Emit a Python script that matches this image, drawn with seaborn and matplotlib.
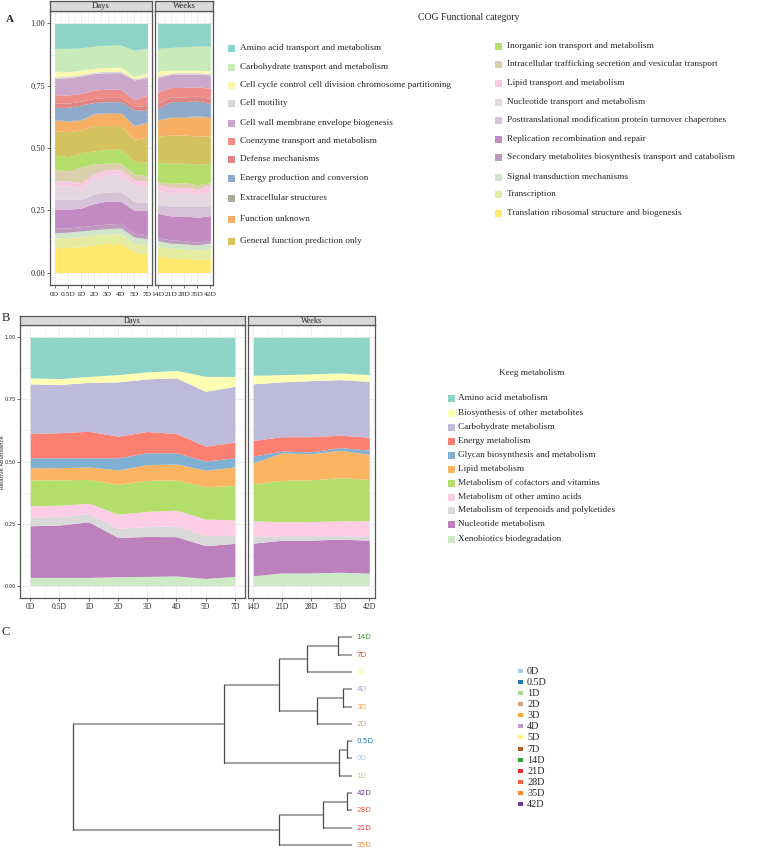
import matplotlib
matplotlib.use("Agg")
import matplotlib.pyplot as plt
from matplotlib.patches import Rectangle
import numpy as np
import seaborn as sns

sns.set_theme(style="white")
plt.rcParams["font.family"] = ["Liberation Serif", "DejaVu Serif"]

#### data
days = ["0D", "0.5D", "1D", "2D", "3D", "4D", "5D", "7D"]
weeks = ["14D", "21D", "28D", "35D", "42D"]

# COG relative abundance (0D..7D then 14D..42D)
cog_amino = [0.100, 0.100, 0.098, 0.091, 0.087, 0.087, 0.107, 0.100, 0.100, 0.096, 0.094, 0.090, 0.091]
cog_carbo = [0.091, 0.094, 0.089, 0.089, 0.089, 0.089, 0.107, 0.098, 0.091, 0.091, 0.093, 0.097, 0.099]
cog_cycle = [0.024, 0.018, 0.018, 0.015, 0.016, 0.016, 0.007, 0.013, 0.020, 0.012, 0.010, 0.010, 0.011]
cog_motility = [0.006, 0.006, 0.006, 0.006, 0.006, 0.006, 0.006, 0.006, 0.006, 0.006, 0.006, 0.006, 0.006]
cog_wall = [0.065, 0.069, 0.070, 0.066, 0.066, 0.066, 0.080, 0.070, 0.060, 0.052, 0.054, 0.051, 0.054]
cog_coenzyme = [0.034, 0.033, 0.031, 0.033, 0.033, 0.033, 0.027, 0.041, 0.043, 0.038, 0.038, 0.038, 0.040]
cog_defense = [0.017, 0.017, 0.016, 0.017, 0.017, 0.017, 0.014, 0.020, 0.021, 0.019, 0.019, 0.019, 0.020]
cog_energy = [0.048, 0.054, 0.057, 0.044, 0.044, 0.044, 0.061, 0.047, 0.046, 0.060, 0.060, 0.060, 0.053]
cog_extra = [0.003, 0.003, 0.003, 0.003, 0.003, 0.003, 0.003, 0.003, 0.003, 0.003, 0.003, 0.003, 0.003]
cog_unknown = [0.044, 0.040, 0.040, 0.046, 0.049, 0.049, 0.053, 0.059, 0.062, 0.071, 0.071, 0.078, 0.075]
cog_general = [0.096, 0.101, 0.093, 0.101, 0.095, 0.095, 0.090, 0.098, 0.105, 0.113, 0.113, 0.114, 0.109]
cog_inorganic = [0.058, 0.057, 0.054, 0.053, 0.056, 0.056, 0.049, 0.056, 0.078, 0.081, 0.078, 0.082, 0.078]
cog_intra = [0.046, 0.040, 0.064, 0.038, 0.025, 0.025, 0.024, 0.024, 0.011, 0.016, 0.019, 0.016, 0.009]
cog_lipid = [0.019, 0.020, 0.023, 0.017, 0.020, 0.018, 0.020, 0.020, 0.025, 0.021, 0.021, 0.018, 0.027]
cog_nucleotide = [0.054, 0.053, 0.044, 0.065, 0.070, 0.071, 0.067, 0.063, 0.055, 0.054, 0.054, 0.053, 0.056]
cog_posttrans = [0.040, 0.040, 0.036, 0.038, 0.037, 0.038, 0.036, 0.033, 0.036, 0.040, 0.040, 0.043, 0.040]
cog_replication = [0.077, 0.076, 0.074, 0.088, 0.092, 0.089, 0.091, 0.097, 0.098, 0.096, 0.099, 0.100, 0.101]
cog_secondary = [0.018, 0.017, 0.017, 0.018, 0.019, 0.019, 0.016, 0.016, 0.012, 0.013, 0.013, 0.011, 0.010]
cog_signal = [0.020, 0.022, 0.023, 0.021, 0.022, 0.025, 0.024, 0.022, 0.021, 0.020, 0.020, 0.020, 0.022]
cog_transcription = [0.040, 0.040, 0.041, 0.040, 0.036, 0.038, 0.036, 0.039, 0.039, 0.041, 0.038, 0.038, 0.040]
cog_translation = [0.100, 0.100, 0.103, 0.111, 0.118, 0.116, 0.082, 0.075, 0.068, 0.057, 0.057, 0.053, 0.056]

cog_labels = ["Amino acid transport and metabolism",
              "Carbohydrate transport and metabolism",
              "Cell cycle control cell division chromosome partitioning",
              "Cell motility",
              "Cell wall membrane envelope biogenesis",
              "Coenzyme transport and metabolism",
              "Defense mechanisms",
              "Energy production and conversion",
              "Extracellular structures",
              "Function unknown",
              "General function prediction only",
              "Inorganic ion transport and metabolism",
              "Intracellular trafficking secretion and vesicular transport",
              "Lipid transport and metabolism",
              "Nucleotide transport and metabolism",
              "Posttranslational modification protein turnover chaperones",
              "Replication recombination and repair",
              "Secondary metabolites biosynthesis transport and catabolism",
              "Signal transduction mechanisms",
              "Transcription",
              "Translation ribosomal structure and biogenesis"]
cog_colours = ["#8DD3C7", "#C9EBBA", "#FAF8B0", "#D6D6D6", "#CBA8CB", "#EE8C88",
               "#DE8585", "#8EA9C9", "#ABAB9E", "#F7AF63", "#D3C25E", "#B3DE69",
               "#DCCFAD", "#F8C9E1", "#E5D7E0", "#D7C3D7", "#C289C2", "#BE9BBE",
               "#CFE6C9", "#E5ECA2", "#FFE86C"]

# KEGG relative abundance
kegg_amino = [0.163, 0.166, 0.157, 0.150, 0.139, 0.133, 0.157, 0.157, 0.153, 0.150, 0.147, 0.143, 0.150]
kegg_biosyn = [0.024, 0.024, 0.024, 0.029, 0.028, 0.030, 0.060, 0.040, 0.034, 0.029, 0.027, 0.027, 0.027]
kegg_carbo = [0.200, 0.194, 0.197, 0.219, 0.212, 0.224, 0.221, 0.225, 0.228, 0.221, 0.226, 0.224, 0.225]
kegg_energy = [0.098, 0.101, 0.107, 0.087, 0.086, 0.078, 0.060, 0.063, 0.063, 0.058, 0.061, 0.050, 0.052]
kegg_glycan = [0.040, 0.040, 0.037, 0.049, 0.048, 0.045, 0.037, 0.037, 0.027, 0.007, 0.008, 0.011, 0.017]
kegg_lipid = [0.049, 0.049, 0.050, 0.058, 0.063, 0.064, 0.067, 0.074, 0.084, 0.111, 0.105, 0.110, 0.101]
kegg_cofactor = [0.105, 0.102, 0.096, 0.120, 0.125, 0.122, 0.130, 0.139, 0.150, 0.167, 0.168, 0.174, 0.167]
kegg_other_amino = [0.044, 0.046, 0.042, 0.058, 0.061, 0.063, 0.067, 0.062, 0.063, 0.056, 0.057, 0.060, 0.063]
kegg_terpenoid = [0.036, 0.034, 0.033, 0.036, 0.040, 0.044, 0.040, 0.033, 0.027, 0.018, 0.018, 0.014, 0.015]
kegg_nucleotide = [0.208, 0.211, 0.224, 0.158, 0.161, 0.158, 0.132, 0.133, 0.131, 0.132, 0.132, 0.133, 0.133]
kegg_xeno = [0.033, 0.033, 0.033, 0.036, 0.037, 0.039, 0.029, 0.037, 0.040, 0.051, 0.051, 0.054, 0.050]

kegg_labels = ["Amino acid metabolism", "Biosynthesis of other metabolites",
               "Carbohydrate metabolism", "Energy metabolism",
               "Glycan biosynthesis and metabolism", "Lipid metabolism",
               "Metabolism of cofactors and vitamins", "Metabolism of other amino acids",
               "Metabolism of terpenoids and polyketides", "Nucleotide metabolism",
               "Xenobiotics biodegradation"]
kegg_colours = sns.color_palette("Set3", 11)

# dendrogram (leaf order top->bottom, merges with heights)
leaves = ["14D", "7D", "5D", "4D", "3D", "2D", "0.5D", "0D", "1D", "42D", "28D", "21D", "35D"]
merges = [("14D", "7D", 0.052), ("n0", "5D", 0.163), ("4D", "3D", 0.032),
          ("n2", "2D", 0.128), ("n1", "n3", 0.261), ("0.5D", "0D", 0.020),
          ("n5", "1D", 0.046), ("n4", "n6", 0.459), ("42D", "28D", 0.020),
          ("n8", "21D", 0.104), ("n9", "35D", 0.261), ("n7", "n10", 1.0)]
sample_order = ["0D", "0.5D", "1D", "2D", "3D", "4D", "5D", "7D", "14D", "21D", "28D", "35D", "42D"]
sample_colours = ["#A6CEE3", "#1F78B4", "#A8DA8C", "#C2A67E", "#FDA43C", "#B99AD3", "#FCF58A",
                  "#B15928", "#33A02C", "#E8303A", "#F4603E", "#F88734", "#6A3D9A"]

#### figure
W, H = 760, 848
fig = plt.figure(figsize=(7.6, 8.48), dpi=100)


def px_axes(x0, y0, x1, y1):
    return fig.add_axes([x0 / W, 1 - y1 / H, (x1 - x0) / W, (y1 - y0) / H])


def facet(ax, vals, colours, n):
    x = np.arange(n)
    ax.stackplot(x, *vals, colors=colours, linewidth=0)
    ax.set_xlim(-0.05 * (n - 1), (n - 1) * 1.05)
    ax.set_ylim(-0.05, 1.05)
    ax.set_facecolor("white")
    for xv in np.arange(-0.5, n, 0.5):
        ax.axvline(xv, color="#EBEBEB", lw=0.6 if xv % 1 == 0 else 0.4, zorder=0)
    for yv in np.arange(0, 1.01, 0.125):
        ax.axhline(yv, color="#EBEBEB", lw=0.6 if yv % 0.25 == 0 else 0.4, zorder=0)
    for s in ax.spines.values():
        s.set_color("#555555")
        s.set_linewidth(0.9)
    ax.tick_params(axis="both", length=2, width=0.5, color="#333333", pad=1.5,
                   bottom=True, left=True)
    ax.set_xticks(x)


def strip(x0, y0, x1, y1, text, size):
    sax = px_axes(x0, y0, x1, y1)
    sax.set_facecolor("#D9D9D9")
    sax.set_xticks([])
    sax.set_yticks([])
    for s in sax.spines.values():
        s.set_color("#555555")
        s.set_linewidth(0.9)
    sax.text(0.5, 0.45, text, ha="center", va="center", fontsize=size, transform=sax.transAxes)


def norm(cols):
    arr = np.array(cols, dtype=float)
    return arr / arr.sum(axis=0)


cog = norm([cog_amino, cog_carbo, cog_cycle, cog_motility, cog_wall, cog_coenzyme, cog_defense,
            cog_energy, cog_extra, cog_unknown, cog_general, cog_inorganic, cog_intra, cog_lipid,
            cog_nucleotide, cog_posttrans, cog_replication, cog_secondary, cog_signal,
            cog_transcription, cog_translation])
kegg = norm([kegg_amino, kegg_biosyn, kegg_carbo, kegg_energy, kegg_glycan, kegg_lipid,
             kegg_cofactor, kegg_other_amino, kegg_terpenoid, kegg_nucleotide, kegg_xeno])
nd = len(days)

### Panel A
ax_a1 = px_axes(50, 11, 152, 285)
ax_a2 = px_axes(155, 11, 213, 285)
facet(ax_a1, cog[::-1, :nd], cog_colours[::-1], nd)
facet(ax_a2, cog[::-1, nd:], cog_colours[::-1], len(weeks))
ax_a1.set_yticks([0, 0.25, 0.5, 0.75, 1.0], ["0.00", "0.25", "0.50", "0.75", "1.00"], fontsize=6)
ax_a2.set_yticks([0, 0.25, 0.5, 0.75, 1.0], [])
ax_a2.tick_params(axis="y", left=False)
ax_a1.set_xticks(range(nd), days, fontsize=5.4)
ax_a2.set_xticks(range(len(weeks)), weeks, fontsize=5.4)
ax_a1.tick_params(axis="x", pad=3)
ax_a2.tick_params(axis="x", pad=3)
strip(50, 1, 152, 11, "Days", 6.2)
strip(155, 1, 213, 11, "Weeks", 6.2)

### Panel B
ax_b1 = px_axes(20, 325, 245, 598)
ax_b2 = px_axes(247.5, 325, 375, 598)
facet(ax_b1, kegg[::-1, :nd], kegg_colours[::-1], nd)
facet(ax_b2, kegg[::-1, nd:], kegg_colours[::-1], len(weeks))
ax_b1.set_yticks([0, 0.25, 0.5, 0.75, 1.0], ["0.00", "0.25", "0.50", "0.75", "1.00"],
                 fontsize=3.6, family="DejaVu Sans")
ax_b1.tick_params(axis="y", pad=1)
ax_b2.set_yticks([0, 0.25, 0.5, 0.75, 1.0], [])
ax_b2.tick_params(axis="y", left=False)
ax_b1.set_xticks(range(nd), days, fontsize=5.5)
ax_b2.set_xticks(range(len(weeks)), weeks, fontsize=5.5)
strip(20, 316, 245, 325, "Days", 5.8)
strip(247.5, 316, 375, 325, "Weeks", 5.8)

### Panel C dendrogram
ax_c = px_axes(60, 628, 420, 848)
ax_c.set_xlim(1.045, -0.242)
ax_c.set_ylim(12.17, -0.537)
ax_c.axis("off")
pos = {name: (0.0, i) for i, name in enumerate(leaves)}
for k, (a, b, h) in enumerate(merges):
    ha, ya = pos[a]
    hb, yb = pos[b]
    ax_c.plot([ha, h], [ya, ya], color="#9A9A9A", lw=1.3, solid_capstyle="butt")
    ax_c.plot([hb, h], [yb, yb], color="#9A9A9A", lw=1.3, solid_capstyle="butt")
    ax_c.plot([h, h], [ya, yb], color="#4A4A4A", lw=0.9)
    pos["n%d" % k] = (h, (ya + yb) / 2)
col_map = dict(zip(sample_order, sample_colours))
for i, name in enumerate(leaves):
    ax_c.text(-0.015, i, name, color=col_map[name], fontsize=5.2, family="DejaVu Sans",
              ha="left", va="center")

#### overlay for legends and panel letters
ov = fig.add_axes([0, 0, 1, 1])
ov.set_xlim(0, W)
ov.set_ylim(H, 0)
ov.axis("off")
ov.patch.set_alpha(0)

ov.text(6, 20, "A", fontsize=8, fontweight="bold", va="center")
ov.text(2, 318, "B", fontsize=9, va="center")
ov.text(2, 632, "C", fontsize=9, va="center")
ov.text(2.8, 462, "Relative Abundance", fontsize=3.9, family="DejaVu Sans",
        rotation=90, ha="center", va="center")

# COG legend
ov.text(469, 18, "COG Functional category", fontsize=7, ha="center", va="center")
left_rows = [48, 67, 85, 103, 123, 141, 159, 178, 198, 219, 241]
right_rows = [46, 64, 83, 102, 120, 139, 157, 177, 194, 213]
for i, (lab, c) in enumerate(zip(cog_labels, cog_colours)):
    if i < len(left_rows):
        kx, tx, ty = 231, 240, left_rows[i]
    else:
        kx, tx, ty = 498, 507, right_rows[i - len(left_rows)]
    ov.add_patch(Rectangle((kx - 3.5, ty - 3.5), 7, 7, color=c, lw=0))
    ov.text(tx, ty, lab, fontsize=6.7, va="center", ha="left")

# KEGG legend
ov.text(532, 373, "Keeg metabolism", fontsize=6.7, ha="center", va="center")
kegg_rows = [398, 413, 427, 441, 455, 469, 483, 497, 510, 524, 539]
for lab, c, ty in zip(kegg_labels, kegg_colours, kegg_rows):
    ov.add_patch(Rectangle((451 - 3.5, ty - 3.5), 7, 7, color=c, lw=0))
    ov.text(458, ty, lab, fontsize=6.7, va="center", ha="left")

# sample legend
for i, (lab, c) in enumerate(zip(sample_order, sample_colours)):
    ty = 671 + i * 11.08
    ov.add_patch(Rectangle((520 - 2.5, ty - 2), 5, 4, color=c, lw=0))
    ov.text(527, ty + 0.5, lab, fontsize=7.3, va="center", ha="left")

fig.savefig("out.png", dpi=100, facecolor="white")
